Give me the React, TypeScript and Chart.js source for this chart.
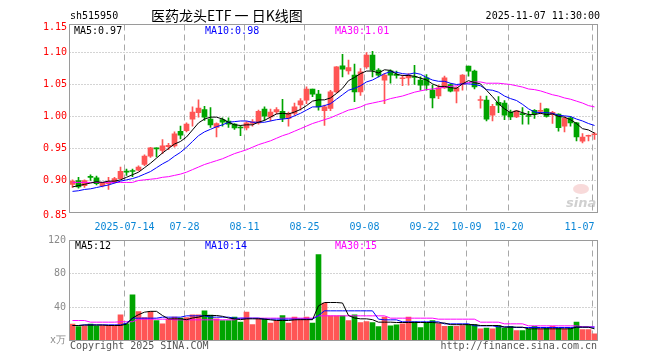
import React, { useEffect, useRef } from "react";
import { Chart, registerables } from "chart.js";
Chart.register(...registerables);

const dates = [
  "2025-07-01","2025-07-02","2025-07-03","2025-07-04","2025-07-07","2025-07-08","2025-07-09","2025-07-10","2025-07-11","2025-07-14",
  "2025-07-15","2025-07-16","2025-07-17","2025-07-18","2025-07-21","2025-07-22","2025-07-23","2025-07-24","2025-07-25","2025-07-28",
  "2025-07-29","2025-07-30","2025-07-31","2025-08-01","2025-08-04","2025-08-05","2025-08-06","2025-08-07","2025-08-08","2025-08-11",
  "2025-08-12","2025-08-13","2025-08-14","2025-08-15","2025-08-18","2025-08-19","2025-08-20","2025-08-21","2025-08-22","2025-08-25",
  "2025-08-26","2025-08-27","2025-08-28","2025-08-29","2025-09-01","2025-09-02","2025-09-03","2025-09-04","2025-09-05","2025-09-08",
  "2025-09-09","2025-09-10","2025-09-11","2025-09-12","2025-09-15","2025-09-16","2025-09-17","2025-09-18","2025-09-19","2025-09-22",
  "2025-09-23","2025-09-24","2025-09-25","2025-09-26","2025-09-29","2025-09-30","2025-10-09","2025-10-10","2025-10-13","2025-10-14",
  "2025-10-15","2025-10-16","2025-10-17","2025-10-20","2025-10-21","2025-10-22","2025-10-23","2025-10-24","2025-10-27","2025-10-28",
  "2025-10-29","2025-10-30","2025-10-31","2025-11-03","2025-11-04","2025-11-05","2025-11-06","2025-11-07"
];

const opens = [
  0.894,0.900,0.892,0.9055,0.904,0.892,0.895,0.898,0.903,0.914,
  0.915,0.916,0.925,0.938,0.950,0.947,0.953,0.954,0.977,0.978,
  0.996,1.006,1.011,0.996,0.983,0.995,0.993,0.988,0.9825,0.982,
  0.989,0.990,1.0115,0.9995,1.007,1.008,0.997,1.005,1.018,1.0255,
  1.0427,1.035,1.009,1.0125,1.0385,1.079,1.0714,1.0646,1.0385,1.0776,
  1.0958,1.0724,1.0568,1.0714,1.066,1.059,1.0604,1.062,1.0568,1.0604,
  1.0411,1.0323,1.0448,1.050,1.0396,1.050,1.0786,1.0708,1.025,1.0255,
  1.002,1.022,1.021,1.007,0.9995,1.0035,1.0005,1.0095,1.008,1.012,
  1.0033,1.0036,0.9849,0.998,0.990,0.9615,0.9692,0.9715
];
const highs = [
  0.901,0.905,0.901,0.909,0.907,0.897,0.905,0.905,0.921,0.918,
  0.918,0.923,0.940,0.952,0.951,0.964,0.958,0.976,0.985,0.990,
  1.015,1.026,1.016,1.014,0.990,0.998,0.998,0.989,0.986,0.992,
  0.995,1.010,1.015,1.0115,1.014,1.027,1.007,1.021,1.028,1.0464,
  1.043,1.041,1.018,1.041,1.078,1.097,1.088,1.082,1.075,1.100,
  1.102,1.075,1.067,1.073,1.071,1.0646,1.067,1.080,1.062,1.0656,
  1.049,1.049,1.063,1.0516,1.0464,1.0656,1.0786,1.0724,1.032,1.032,
  1.019,1.031,1.025,1.010,1.009,1.014,1.008,1.011,1.021,1.0125,
  1.008,1.004,0.9995,1.000,0.991,0.9734,0.9708,0.975
];
const lows = [
  0.889,0.888,0.889,0.900,0.893,0.890,0.886,0.896,0.902,0.908,
  0.906,0.915,0.923,0.936,0.937,0.942,0.948,0.952,0.965,0.976,
  0.985,0.999,0.994,0.983,0.968,0.985,0.983,0.980,0.970,0.979,
  0.985,0.988,0.994,0.993,1.004,0.992,0.985,1.002,1.010,1.020,
  1.031,1.010,0.986,1.009,1.037,1.062,1.066,1.023,1.033,1.075,
  1.062,1.062,1.020,1.052,1.060,1.048,1.049,1.050,1.041,1.041,
  1.0135,1.028,1.044,1.0385,1.0214,1.041,1.063,1.043,1.013,0.993,
  0.993,1.006,0.995,0.995,0.998,0.988,0.988,0.997,1.004,0.999,
  0.989,0.977,0.976,0.985,0.962,0.9589,0.962,0.964
];
const closes = [
  0.899,0.890,0.900,0.905,0.895,0.896,0.898,0.903,0.9145,0.913,
  0.914,0.921,0.938,0.951,0.9495,0.954,0.955,0.973,0.971,0.988,
  1.007,1.013,0.999,0.987,0.989,0.991,0.988,0.982,0.982,0.990,
  0.9915,1.008,1.0005,1.007,1.011,0.997,1.005,1.015,1.0245,1.0427,
  1.035,1.015,1.015,1.0385,1.0776,1.074,1.0766,1.0385,1.0698,1.0958,
  1.0724,1.0646,1.0646,1.0646,1.064,1.0595,1.0646,1.061,1.049,1.049,
  1.0292,1.0448,1.0604,1.0396,1.0448,1.0646,1.0708,1.0464,1.026,0.996,
  1.016,1.0177,1.002,0.9995,1.0089,1.003,1.000,1.0041,1.0088,1.000,
  1.0065,0.9825,0.9972,0.990,0.968,0.968,0.9698,0.9725
];
const volumes = [
  19.6,16.8,17.6,19.6,17.6,18,18,18,30.8,20,
  54.8,34.8,27.6,34.8,24,20,25.6,28,26.8,27.6,
  30.8,30.8,35.6,30.4,26,24,24,28,22,34,
  19,26,26,21,24,30,21,28,26,28,
  21,103,45,29.6,29.6,29.6,24,30.8,21.6,22.8,
  21.6,16.8,28,17.6,18.8,20,28,22.4,15.6,21.2,
  24,20,17,17,17,18,19,19,14,15,
  14,18,15,17,12,12,14,17,14,15,
  17,15,14,15,22,13,13,8
];

const ma5 = [
  0.890,0.892,0.894,0.896,0.898,0.897,0.899,0.899,0.901,0.905,
  0.909,0.913,0.920,0.927,0.935,0.943,0.950,0.957,0.961,0.968,
  0.979,0.990,0.996,0.999,0.999,0.996,0.991,0.987,0.986,0.987,
  0.987,0.991,0.994,0.999,1.004,1.005,1.004,1.007,1.011,1.017,
  1.024,1.026,1.026,1.029,1.036,1.044,1.056,1.061,1.067,1.071,
  1.071,1.068,1.073,1.072,1.066,1.064,1.064,1.063,1.060,1.057,
  1.051,1.047,1.047,1.045,1.044,1.051,1.056,1.053,1.051,1.041,
  1.031,1.020,1.012,1.006,1.009,1.006,1.003,1.003,1.005,1.003,
  1.004,1.000,0.999,0.995,0.989,0.981,0.979,0.974
];
const ma10 = [
  0.883,0.884,0.886,0.887,0.889,0.891,0.893,0.896,0.899,0.901,
  0.903,0.906,0.910,0.914,0.920,0.926,0.931,0.938,0.944,0.952,
  0.961,0.970,0.976,0.980,0.984,0.987,0.991,0.992,0.993,0.993,
  0.991,0.991,0.991,0.993,0.995,0.996,0.997,1.001,1.005,1.010,
  1.015,1.015,1.017,1.020,1.027,1.034,1.041,1.044,1.048,1.054,
  1.057,1.062,1.067,1.070,1.069,1.067,1.066,1.068,1.066,1.061,
  1.057,1.055,1.055,1.052,1.050,1.051,1.051,1.050,1.048,1.042,
  1.041,1.038,1.032,1.028,1.025,1.019,1.012,1.007,1.006,1.006,
  1.005,1.002,1.001,1.000,0.996,0.993,0.989,0.986
];
const ma30 = [
  0.897,0.897,0.897,0.897,0.897,0.897,0.897,0.897,0.897,0.897,
  0.897,0.900,0.901,0.902,0.903,0.905,0.906,0.908,0.910,0.913,
  0.917,0.921,0.925,0.928,0.931,0.934,0.938,0.942,0.945,0.948,
  0.952,0.956,0.959,0.962,0.966,0.970,0.973,0.977,0.981,0.985,
  0.989,0.992,0.995,0.998,1.002,1.006,1.010,1.012,1.015,1.019,
  1.021,1.023,1.025,1.028,1.030,1.032,1.035,1.038,1.040,1.042,
  1.043,1.044,1.046,1.047,1.048,1.051,1.053,1.054,1.054,1.052,
  1.052,1.052,1.051,1.050,1.048,1.046,1.043,1.042,1.040,1.037,
  1.034,1.032,1.029,1.027,1.024,1.021,1.017,1.015
];
const volMa5 = [
  18,18,18.5,18.5,18.5,18.5,18,18,18,19.6,
  27,31,34,35,35,30,26,26,26,25,
  27,28,30,30,30,29,27,26,25,26,
  26,26,25.6,24.8,24,24,24,24.8,25,25,
  25,41.6,45.6,45.6,45.6,45,30,27,26,26,
  25,22,22,22,21.6,21.6,21.6,21.6,21.6,21.6,
  21.6,21,21,19,19,19,19,19,18,18,
  18,18,16,16,16,16,14,14,14,14,
  14,14,14,14,16,16,16,14
];
const volMa10 = [
  18,18,18.8,18.8,18.8,18.8,18.8,18.8,18.8,20.8,
  26.8,26.8,26.8,26.8,26.8,28,28,28,28,29.6,
  29.6,29.6,29.6,28,28,28,28,26.8,26.8,26.8,
  26.8,26.8,25.6,25.6,25.6,25.6,25.6,25.6,25.6,25.6,
  25.6,30,35.6,35.6,35.6,35.6,35.6,35.6,35.6,35.6,
  35.6,25.6,24.8,24.8,24.8,22.4,22.4,22.4,22.4,22.4,
  22.4,22.4,20,20,20,20,20,17.6,17.6,17.6,
  17.6,16.4,16.4,16.4,15.6,15.6,15.6,15.6,15.6,15.6,
  15.6,15.6,15.6,15.6,16,16,16,16
];
const volMa30 = [
  24,24,24,22,22,22,22,22,22.5,22.5,
  22.5,25.6,25.6,25.6,25.6,25.6,25.6,24.8,24.8,24.8,
  24.8,24.8,24.8,24.8,24.8,24.8,24.8,24.8,26.8,26.8,
  26.8,26.8,26.8,26.8,26.8,26.8,26.8,26.8,26.8,26.8,
  26.8,29.6,29.6,29.6,29.6,29.6,29.6,29.6,29.6,29.6,
  29.6,29.6,29.6,26.8,26.8,26.8,26.8,26.8,26.8,26.8,
  26.8,25.6,25.6,25.6,25.6,25.6,25.6,25.6,22,22,
  22,22,20,20,20,20,17.6,17.6,17.6,17.6,
  17.6,17.6,17.6,17.6,17.6,16.4,16.4,16.4
];

const tickDates = ["2025-07-14","2025-07-28","2025-08-11","2025-08-25","2025-09-08","2025-09-22","2025-10-09","2025-10-20","2025-11-07"];
const tickTexts = ["2025-07-14","07-28","08-11","08-25","09-08","09-22","10-09","10-20","11-07"];
const priceTicks = [1.15, 1.10, 1.05, 1.00, 0.95, 0.90, 0.85];
const priceTickTexts = ["1.15","1.10","1.05","1.00","0.95","0.90","0.85"];
const volTicks = [120, 80, 40];

const TITLE_CODE = "sh515950";
const TITLE = "医药龙头ETF 一 日K线图";
const TIME_TEXT = "2025-11-07 11:30:00";
const MA_PRICE_TEXT = ["MA5:0.97", "MA10:0.98", "MA30:1.01"];
const MA_VOL_TEXT = ["MA5:12", "MA10:14", "MA30:15"];
const VOL_UNIT = "x万";
const COPYRIGHT = "Copyright 2025 SINA.COM";
const SITE = "http://finance.sina.com.cn";

const UP = "#ff5555";
const DOWN = "#00a400";
const GRID = "#a8a8a8";
const BORDER = "#9a9a9a";
const MONO = '10px "DejaVu Sans Mono", monospace';
const MA_COLORS = ["#000000", "#0000ff", "#ff00ff"];

const candleColors = opens.map((o, i) => (closes[i] >= o ? UP : DOWN));

function gridX(chart: any, d: string) {
  const idx = dates.indexOf(d);
  return Math.round(chart.scales.x.getPixelForValue(idx) - 2.5) + 0.5;
}

function drawVGrid(chart: any) {
  const { ctx, chartArea: a } = chart;
  ctx.save();
  ctx.strokeStyle = GRID;
  ctx.lineWidth = 1;
  ctx.setLineDash([6, 4]);
  for (const d of tickDates) {
    const x = gridX(chart, d);
    ctx.beginPath();
    ctx.moveTo(x, a.top);
    ctx.lineTo(x, a.bottom);
    ctx.stroke();
  }
  ctx.restore();
}

function drawHGrid(chart: any, values: number[]) {
  const { ctx, chartArea: a, scales } = chart;
  ctx.save();
  ctx.strokeStyle = GRID;
  ctx.lineWidth = 1;
  ctx.setLineDash([1, 2]);
  for (const v of values) {
    const y = Math.round(scales.y.getPixelForValue(v) - 0.5) + 0.5;
    ctx.beginPath();
    ctx.moveTo(a.left, y);
    ctx.lineTo(a.right, y);
    ctx.stroke();
  }
  ctx.restore();
}

function drawBorder(chart: any) {
  const { ctx, chartArea: a } = chart;
  ctx.save();
  ctx.strokeStyle = BORDER;
  ctx.lineWidth = 1;
  ctx.setLineDash([]);
  ctx.strokeRect(a.left, a.top, a.right - a.left, a.bottom - a.top);
  ctx.restore();
}

const mainDeco = {
  id: "mainDeco",
  beforeDatasetsDraw(chart: any) {
    drawHGrid(chart, [1.10, 1.05, 1.00, 0.95, 0.90]);
    drawVGrid(chart);
    const { ctx, chartArea: a } = chart;
    ctx.save();
    ctx.fillStyle = "rgba(235,150,150,0.35)";
    ctx.beginPath();
    ctx.ellipse(581, 189, 8, 5, 0, 0, Math.PI * 2);
    ctx.fill();
    ctx.fillStyle = "rgba(170,170,170,0.55)";
    ctx.font = 'italic bold 13px "DejaVu Sans", sans-serif';
    ctx.textBaseline = "alphabetic";
    ctx.fillText("sina", 566, a.bottom - 6);
    ctx.restore();
  },
  afterDatasetsDraw(chart: any) {
    const { ctx, chartArea: a, scales } = chart;
    drawBorder(chart);
    ctx.save();
    ctx.font = MONO;
    ctx.textBaseline = "middle";
    ctx.fillStyle = "#ff0000";
    ctx.textAlign = "right";
    priceTicks.forEach((v, i) => {
      let y = scales.y.getPixelForValue(v);
      if (y < a.top) y = a.top + 3;
      if (v === 0.85) y = a.bottom + 3;
      ctx.fillText(priceTickTexts[i], 67, y);
    });
    ctx.fillStyle = "#0a86d6";
    ctx.textAlign = "center";
    tickTexts.forEach((t, i) => {
      let cx = gridX(chart, tickDates[i]);
      const w = ctx.measureText(t).width;
      if (cx + w / 2 > a.right - 3) cx = a.right - 3 - w / 2;
      ctx.fillText(t, cx, 227.5);
    });
    ctx.textAlign = "left";
    ctx.fillStyle = "#000";
    ctx.fillText(TITLE_CODE, 70, 16);
    ctx.textAlign = "right";
    ctx.fillText(TIME_TEXT, 600, 16);
    ctx.textAlign = "left";
    ctx.font = '14px "Noto Sans CJK SC", sans-serif';
    ctx.fillText(TITLE, 151, 16);
    ctx.font = MONO;
    const xs = [74, 205, 335];
    MA_PRICE_TEXT.forEach((t, i) => {
      ctx.fillStyle = MA_COLORS[i];
      ctx.fillText(t, xs[i], a.top + 7);
    });
    ctx.restore();
  },
};

const volDeco = {
  id: "volDeco",
  beforeDatasetsDraw(chart: any) {
    drawHGrid(chart, [80, 40]);
    drawVGrid(chart);
  },
  afterDatasetsDraw(chart: any) {
    const { ctx, chartArea: a, scales } = chart;
    drawBorder(chart);
    ctx.save();
    ctx.font = MONO;
    ctx.textBaseline = "middle";
    ctx.fillStyle = "#8a8a8a";
    ctx.textAlign = "right";
    volTicks.forEach((v) => {
      ctx.fillText(String(v), 66, scales.y.getPixelForValue(v));
    });
    ctx.fillText(VOL_UNIT, 66, a.bottom);
    ctx.textAlign = "left";
    const xs = [75, 205, 335];
    MA_VOL_TEXT.forEach((t, i) => {
      ctx.fillStyle = MA_COLORS[i];
      ctx.fillText(t, xs[i], a.top + 6);
    });
    ctx.fillStyle = "#555555";
    ctx.fillText(COPYRIGHT, 70, 116);
    ctx.textAlign = "right";
    ctx.fillText(SITE, 597, 116);
    ctx.restore();
  },
};

function lineDs(data: number[], color: string) {
  return {
    type: "line" as const,
    data,
    borderColor: color,
    borderWidth: 1,
    pointRadius: 0,
    tension: 0,
    fill: false,
    order: 0,
  };
}

export default function App() {
  const mainRef = useRef<HTMLCanvasElement>(null);
  const volRef = useRef<HTMLCanvasElement>(null);

  useEffect(() => {
    const common = {
      responsive: false,
      animation: false as const,
      devicePixelRatio: 1,
      events: [] as any[],
      plugins: { legend: { display: false }, tooltip: { enabled: false } },
    };
    const main = new Chart(mainRef.current as HTMLCanvasElement, {
      type: "bar",
      data: {
        labels: dates,
        datasets: [
          lineDs(ma5, MA_COLORS[0]),
          lineDs(ma10, MA_COLORS[1]),
          lineDs(ma30, MA_COLORS[2]),
          {
            type: "bar",
            data: opens.map((o, i) => [o, closes[i]]),
            backgroundColor: candleColors,
            barThickness: 5,
            grouped: false,
            minBarLength: 1,
            borderWidth: 0,
            order: 1,
          } as any,
          {
            type: "bar",
            data: lows.map((l, i) => [l, highs[i]]),
            backgroundColor: candleColors,
            barThickness: 1,
            grouped: false,
            borderWidth: 0,
            order: 2,
          } as any,
        ],
      },
      options: {
        ...common,
        layout: { padding: { left: 69.5, right: 62.5, top: 24.5, bottom: 17.5 } },
        scales: {
          x: { type: "category", display: false, offset: true, grid: { display: false } },
          y: { type: "linear", display: false, min: 0.85, max: 1.14375 },
        },
      } as any,
      plugins: [mainDeco],
    });

    const vol = new Chart(volRef.current as HTMLCanvasElement, {
      type: "bar",
      data: {
        labels: dates,
        datasets: [
          lineDs(volMa5, MA_COLORS[0]),
          lineDs(volMa10, MA_COLORS[1]),
          lineDs(volMa30, MA_COLORS[2]),
          {
            type: "bar",
            data: volumes,
            backgroundColor: candleColors,
            barThickness: 5,
            grouped: false,
            borderWidth: 0,
            order: 1,
          } as any,
        ],
      },
      options: {
        ...common,
        layout: { padding: { left: 69.5, right: 62.5, top: 10.5, bottom: 19.5 } },
        scales: {
          x: { type: "category", display: false, offset: true, grid: { display: false } },
          y: { type: "linear", display: false, min: 0, max: 120 },
        },
      } as any,
      plugins: [volDeco],
    });

    return () => {
      main.destroy();
      vol.destroy();
    };
  }, []);

  return (
    <div style={{ position: "absolute", left: 0, top: 0, width: 660, height: 360, background: "#fff", overflow: "hidden" }}>
      <canvas ref={mainRef} width={660} height={230} style={{ position: "absolute", left: 0, top: 0, width: 660, height: 230 }} />
      <canvas ref={volRef} width={660} height={130} style={{ position: "absolute", left: 0, top: 230, width: 660, height: 130 }} />
    </div>
  );
}
